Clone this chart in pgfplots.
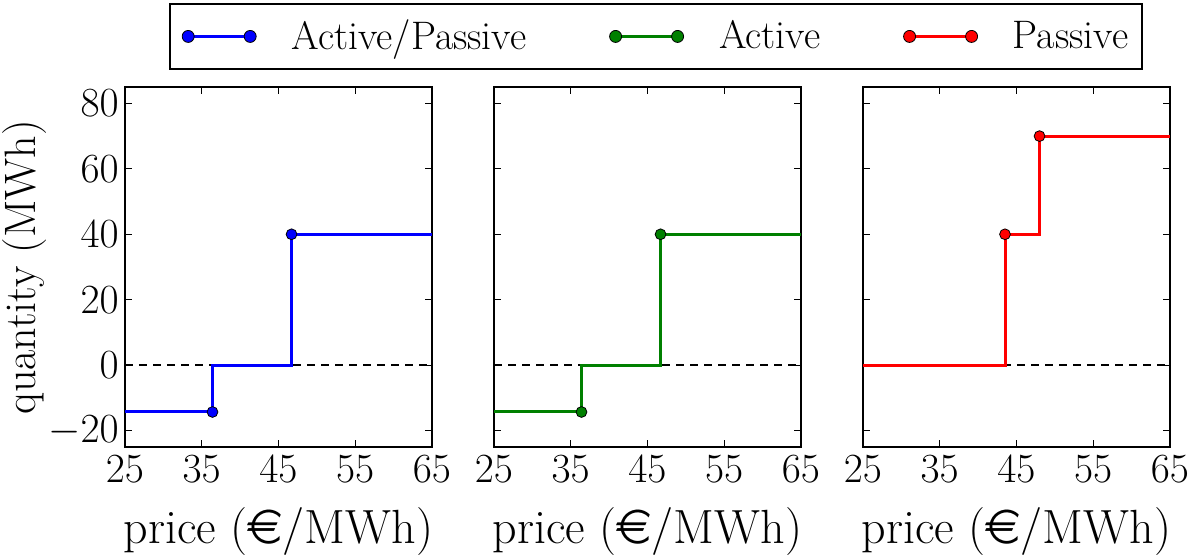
\documentclass[border=0pt]{standalone}
\usepackage{pgfplots}
\usepackage{eurosym}
\pgfplotsset{compat=1.18}
\definecolor{mplgreen}{RGB}{0,128,0}
\begin{document}
\begin{tikzpicture}
% page frame: 596pt x 279.5pt around the first axis box
\useasboundingbox (-62.5pt,-56pt) rectangle (533.5pt,223.5pt);
\pgfplotsset{
  panel/.style={
    scale only axis, width=153.5pt, height=180pt,
    anchor=south west,
    xmin=25, xmax=65, ymin=-25, ymax=85,
    xtick={25,35,45,55,65}, ytick={-20,0,20,40,60,80},
    tick align=inside, major tick length=3.5pt,
    every tick/.style={black, line width=0.5pt},
    axis line style={line width=1pt},
    tick label style={font=\fontsize{21.5}{25}\selectfont},
    xticklabel style={inner xsep=0pt, inner ysep=4pt},
    yticklabel style={inner xsep=3pt, inner ysep=0pt},
    xlabel={price (\euro/MWh)},
    xlabel style={font=\fontsize{24}{28}\selectfont, inner sep=0pt,
      at={(axis description cs:0.5,0)}, anchor=base, yshift=-48pt},
  },
  zero/.style={black, line width=1pt, dash pattern=on 4pt off 3pt},
  step/.style={#1, line width=1.5pt},
  dots/.style={only marks, mark=*, mark size=2.7pt,
    mark options={fill=#1, draw=black, line width=0.4pt}},
  legimg/.style={legend image code/.code={
    \draw[#1, line width=1.5pt] (0pt,0pt) -- (31pt,0pt);
    \filldraw[fill=#1, draw=black, line width=0.4pt] (0pt,0pt) circle (3pt) (31pt,0pt) circle (3pt);}},
}

% Active/Passive
\begin{axis}[panel, at={(0pt,0pt)}, ylabel={quantity (MWh)},
  ylabel style={font=\fontsize{22}{26}\selectfont, inner sep=0pt,
    at={(axis description cs:0,0.5)}, anchor=south, yshift=39pt},
  legend columns=3,
  legend style={at={(1.7296,1.2333)}, anchor=north, draw=black, line width=1pt,
    font=\fontsize{19.9}{24}\selectfont, inner xsep=6pt, inner ysep=7pt,
    nodes={inner sep=1pt},
    /tikz/every odd column/.append style={column sep=16.5pt},
    /tikz/every even column/.append style={column sep=40.5pt}},
  legend cell align=left]
\addlegendimage{legimg=blue}
\addlegendentry{Active/Passive}
\addlegendimage{legimg=mplgreen}
\addlegendentry{Active}
\addlegendimage{legimg=red}
\addlegendentry{Passive}
\addplot[zero, forget plot] coordinates {(25,0) (65,0)};
\addplot[step=blue, forget plot] coordinates {(25,-14.3) (36.4,-14.3) (36.4,0) (46.7,0) (46.7,40) (65,40)};
\addplot[dots=blue, forget plot] coordinates {(36.4,-14.3) (46.7,40)};
\end{axis}

% Active
\begin{axis}[panel, at={(184.5pt,0pt)}, yticklabels={}]
\addplot[zero] coordinates {(25,0) (65,0)};
\addplot[step=mplgreen] coordinates {(25,-14.3) (36.4,-14.3) (36.4,0) (46.7,0) (46.7,40) (65,40)};
\addplot[dots=mplgreen] coordinates {(36.4,-14.3) (46.7,40)};
\end{axis}

% Passive
\begin{axis}[panel, at={(369pt,0pt)}, yticklabels={}]
\addplot[zero] coordinates {(25,0) (65,0)};
\addplot[step=red] coordinates {(25,0) (43.5,0) (43.5,40) (48,40) (48,70) (65,70)};
\addplot[dots=red] coordinates {(43.5,40) (48,70)};
\end{axis}
\end{tikzpicture}
\end{document}
